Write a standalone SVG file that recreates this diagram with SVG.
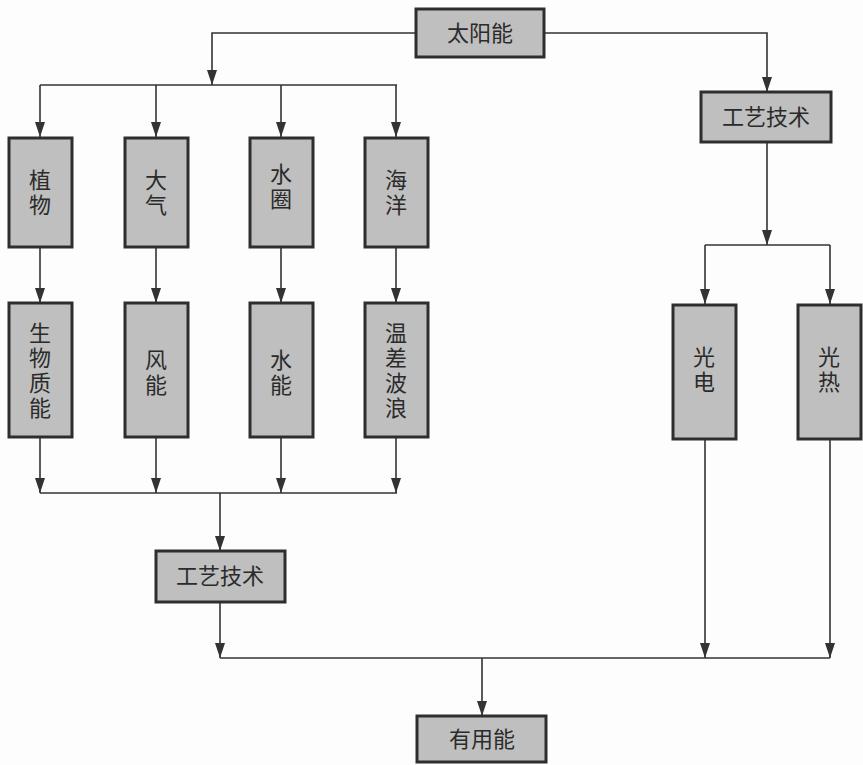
<svg xmlns="http://www.w3.org/2000/svg" width="863" height="765" viewBox="0 0 863 765">
<defs>
<marker id="arr" markerUnits="userSpaceOnUse" markerWidth="10" markerHeight="16" refX="5" refY="15" orient="0" viewBox="0 0 10 16">
<path d="M0,0 L10,0 L5,15 Z" fill="#333"/>
</marker>
<style>
.box{fill:#bfbfbf;stroke:#2e2e2e;stroke-width:3}
.t{font-family:"Noto Sans CJK SC","Noto Sans",sans-serif;font-size:22px;fill:#2b2b2b;text-anchor:middle}
.v{writing-mode:vertical-rl;letter-spacing:3px;dominant-baseline:central}
.ln{fill:none;stroke:#333;stroke-width:1.6}
.a{marker-end:url(#arr)}
</style>
</defs>
<rect width="863" height="765" fill="#fdfdfd"/>
<g id="connectors">
<path class="ln a" d="M416,33 H212 V85"/>
<path class="ln" d="M40,85 H397"/>
<path class="ln a" d="M40,85 V137"/>
<path class="ln a" d="M156,85 V137"/>
<path class="ln a" d="M281,85 V137"/>
<path class="ln a" d="M396,85 V137"/>
<path class="ln a" d="M544,33 H767 V92"/>
<path class="ln a" d="M767,142 V245"/>
<path class="ln" d="M705,245 H830"/>
<path class="ln a" d="M705,245 V304"/>
<path class="ln a" d="M830,245 V304"/>
<path class="ln a" d="M40,247 V303"/>
<path class="ln a" d="M156,247 V303"/>
<path class="ln a" d="M281,247 V303"/>
<path class="ln a" d="M396,247 V303"/>
<path class="ln a" d="M40,437 V493"/>
<path class="ln a" d="M156,437 V493"/>
<path class="ln a" d="M281,437 V493"/>
<path class="ln a" d="M396,437 V493"/>
<path class="ln" d="M40,493 H397"/>
<path class="ln a" d="M220,493 V551"/>
<path class="ln a" d="M220,602 V658"/>
<path class="ln" d="M220,658 H830"/>
<path class="ln a" d="M705,439 V658"/>
<path class="ln a" d="M830,439 V658"/>
<path class="ln a" d="M482,658 V716"/>
</g>
<g id="n-sun"><rect class="box" x="416" y="9" width="128" height="48"/><text class="t" x="480" y="41">太阳能</text></g>
<g id="n-tech-right"><rect class="box" x="701" y="92" width="130" height="50"/><text class="t" x="766" y="125">工艺技术</text></g>
<g id="n-plant"><rect class="box" x="9" y="138" width="63" height="109"/><text class="t v" x="40" y="194">植物</text></g>
<g id="n-atmo"><rect class="box" x="125" y="138" width="63" height="109"/><text class="t v" x="156" y="194">大气</text></g>
<g id="n-hydro"><rect class="box" x="250" y="138" width="63" height="109"/><text class="t v" x="281" y="188">水圈</text></g>
<g id="n-ocean"><rect class="box" x="365" y="138" width="63" height="109"/><text class="t v" x="396" y="194">海洋</text></g>
<g id="n-bio"><rect class="box" x="9" y="303" width="63" height="134"/><text class="t v" x="40" y="372">生物质能</text></g>
<g id="n-wind"><rect class="box" x="125" y="303" width="63" height="134"/><text class="t v" x="156" y="374">风能</text></g>
<g id="n-water"><rect class="box" x="250" y="303" width="63" height="134"/><text class="t v" x="281" y="374">水能</text></g>
<g id="n-wave"><rect class="box" x="365" y="303" width="63" height="134"/><text class="t v" x="396" y="372">温差波浪</text></g>
<g id="n-pv"><rect class="box" x="673" y="305" width="63" height="134"/><text class="t v" x="704" y="371">光电</text></g>
<g id="n-thermal"><rect class="box" x="798" y="305" width="63" height="134"/><text class="t v" x="829" y="371">光热</text></g>
<g id="n-tech-left"><rect class="box" x="156" y="551" width="129" height="51"/><text class="t" x="220" y="584">工艺技术</text></g>
<g id="n-useful"><rect class="box" x="417" y="716" width="129" height="46"/><text class="t" x="482" y="747">有用能</text></g>
</svg>
